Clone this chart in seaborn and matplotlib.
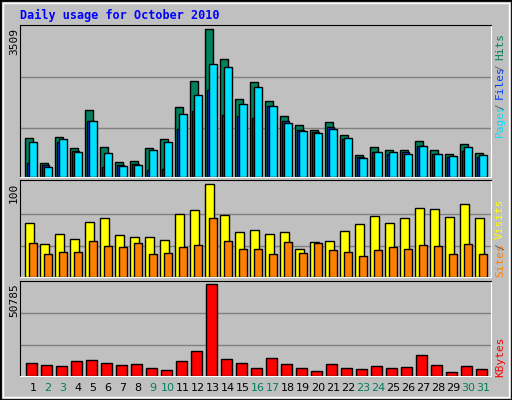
import matplotlib
matplotlib.use("Agg")
import matplotlib.pyplot as plt
import seaborn as sns
import numpy as np
import pandas as pd

days = list(range(1, 32))
hits = [937, 333, 961, 699, 1604, 722, 365, 389, 699, 913, 1675, 2294, 3509, 2795, 1866, 2247,
        1818, 1461, 1246, 1127, 1318, 1008, 532, 722, 651, 651, 865, 651, 556, 794, 580]
front = [842, 246, 913, 603, 1342, 580, 270, 294, 651, 842, 1508, 1961, 2675, 2604, 1747, 2151,
         1699, 1294, 1104, 1056, 1151, 937, 460, 603, 603, 556, 746, 556, 508, 722, 532]
back = [341, 294, 842, 627, 1342, 246, 294, 318, 175, 198, 1151, 1580, 2080, 1485, 1461, 1413,
        1699, 1342, 1127, 1080, 1199, 913, 484, 603, 556, 603, 746, 556, 484, 627, 484]
visits = [58, 36, 46, 41, 59, 64, 45, 43, 43, 40, 68, 72, 100, 67, 48, 51, 46, 48, 30, 38, 39,
          49, 57, 66, 58, 64, 74, 73, 65, 79, 63]
sites = [37, 25, 27, 27, 39, 33, 32, 37, 25, 26, 32, 34, 64, 39, 30, 30, 25, 38, 26, 37, 29, 27,
         23, 29, 32, 30, 34, 33, 25, 36, 25]
kbytes = [7387, 6279, 5725, 8495, 9049, 7387, 6279, 6833, 4617, 3509, 8495, 14035, 50785, 9603,
          7387, 4617, 10157, 6833, 4617, 2955, 6833, 4617, 4063, 5725, 4617, 5171, 11819, 6279,
          2401, 5725, 4063]
weekends = {2, 3, 9, 10, 16, 17, 23, 24, 30, 31}

sns.set_style("white")
W, H = 512, 400
fig = plt.figure(figsize=(W / 100, H / 100), dpi=100)
fig.patch.set_facecolor("#C0C0C0")
fig.add_artist(plt.Rectangle((0, 0), 1, 1, transform=fig.transFigure, fill=False,
                             edgecolor="black", linewidth=2))
fig.add_artist(plt.Rectangle((3 / W, 3 / H), 1 - 6 / W, 1 - 6 / H, transform=fig.transFigure,
                             fill=False, edgecolor="white", linewidth=1))

def ax_at(x0, y0, x1, y1):
    a = fig.add_axes([x0 / W, 1 - y1 / H, (x1 - x0) / W, (y1 - y0) / H])
    a.set_facecolor("#C0C0C0")
    for s in ["left", "top"]:
        a.spines[s].set_color("black")
    for s in ["right", "bottom"]:
        a.spines[s].set_color("white")
    return a

darr = np.array(days, dtype=float)
XL = (0.5, 0.5 + 471 / 15)
mono = "DejaVu Sans Mono"

def bars(ax, xs, vals, color, width):
    df = pd.DataFrame({"x": xs, "y": vals})
    sns.barplot(data=df, x="x", y="y", native_scale=True, width=width, color=color,
                edgecolor="black", linewidth=1, ax=ax, saturation=1)

def finish(ax, vmax, ymax):
    ax.set_xlim(*XL)
    ax.set_ylim(0, ymax)
    for f in (0.335, 0.68):
        ax.axhline(vmax * f, color="#808080", linewidth=1, zorder=0)
    ax.set_xticks([])
    ax.set_yticks([])
    ax.set_xlabel("")
    ax.set_ylabel("")

# top panel
a1 = ax_at(20, 25, 491, 177)
bars(a1, darr + 0.09, hits, "#00805C", 0.51)
bars(a1, darr + 0.2, back, "#0040FF", 0.5)
bars(a1, darr + 0.357, front, "#00E0FF", 0.51)
finish(a1, max(hits), max(hits) * 151.7 / 147.3)

# middle panel
a2 = ax_at(20, 180, 491, 277)
bars(a2, darr + 0.123, visits, "#FFFF00", 0.58)
bars(a2, darr + 0.357, sites, "#FF8000", 0.51)
finish(a2, max(visits), max(visits) * 96 / 92)

# bottom panel
a3 = ax_at(20, 281, 491, 376)
bars(a3, darr + 0.257, kbytes, "#FF0000", 0.71)
finish(a3, max(kbytes), max(kbytes) * 94.7 / 91.7)
a3.set_xticks(darr + 0.367)
a3.set_xticklabels([str(d) for d in days], fontsize=8, family="DejaVu Sans")
for lbl, d in zip(a3.get_xticklabels(), days):
    lbl.set_color("#00805C" if d in weekends else "black")
a3.tick_params(axis="x", length=0, pad=5)

fig.text(20 / W, 1 - 15 / H, "Daily usage for October 2010", color="#0000FF",
         fontsize=8.5, fontweight="bold", family=mono, va="center", ha="left")

def vt(x, y, s, c, va="bottom"):
    fig.text(x / W, 1 - y / H, s, color=c, rotation=90, fontsize=8, family=mono,
             ha="center", va=va)

vt(14, 28, "3509", "black", va="top")
vt(14, 183, "100", "black", va="top")
vt(14, 283, "50785", "black", va="top")
vt(500, 137, "Pages", "#00E0FF")
vt(500, 110, "/", "#606060")
vt(500, 99, "Files", "#0040FF")
vt(500, 71, "/", "#606060")
vt(500, 60, "Hits", "#00805C")
vt(500, 277, "Sites", "#FF8000")
vt(500, 250, "/", "#606060")
vt(500, 239, "Visits", "#FFFF00")
vt(500, 377, "KBytes", "#FF0000")

fig.savefig("out.png", dpi=100, facecolor=fig.get_facecolor())
